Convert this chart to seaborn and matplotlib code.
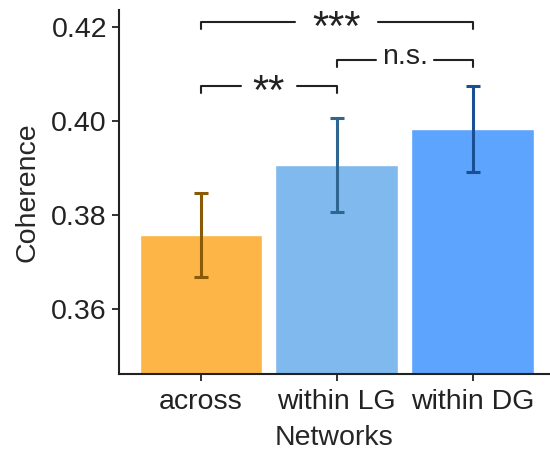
import numpy as np
import seaborn as sns
import matplotlib.pyplot as plt

networks = ["across", "within LG", "within DG"]
coherence_mean = [0.3758, 0.3906, 0.3983]
coherence_sem = [0.0090, 0.0100, 0.0092]
bar_colors = ["#FDB547", "#7FB9EE", "#5CA4FD"]
err_colors = ["#8B5A06", "#2F6591", "#1B4F93"]

# comparações (par de barras, altura do colchete, rótulo)
comparisons = [(0, 2, 0.4211, "***"), (1, 2, 0.4130, "n.s."), (0, 1, 0.4074, "**")]

sns.set_style("ticks")
plt.rcParams["font.family"] = ["Liberation Sans", "DejaVu Sans"]
plt.rcParams["font.size"] = 20.5

fig = plt.figure(figsize=(5.5, 4.54), dpi=100)
ax = fig.add_axes([0.216, 0.176, 0.784, 0.802])

sns.barplot(x=networks, y=coherence_mean, hue=networks, palette=bar_colors,
            width=0.9, legend=False, saturation=1, ax=ax)

for i, (m, s) in enumerate(zip(coherence_mean, coherence_sem)):
    ax.errorbar(i, m, yerr=s, color=err_colors[i], elinewidth=2.2,
                capsize=5, capthick=2.2, fmt="none")

ax.set_ylim(0.3462, 0.4236)
ax.set_xlim(-0.603, 2.57)

# estilo do rótulo: tamanho, deslocamento vertical (pt), folga horizontal (px)
label_style = {"***": (30, -13, 17), "**": (30, -13, 12), "n.s.": (20.5, -3, 6)}
tick_h = 0.0015
fig.canvas.draw()
renderer = fig.canvas.get_renderer()
inv = ax.transData.inverted()
for a, b, y, label in comparisons:
    fs, dy, gap = label_style[label]
    t = ax.annotate(label, xy=((a + b) / 2, y), xytext=(0, dy), textcoords="offset points",
                    ha="center", va="baseline", fontsize=fs, color="#222222")
    ext = t.get_window_extent(renderer)
    x_left = inv.transform((ext.x0 - gap, 0))[0]
    x_right = inv.transform((ext.x1 + gap, 0))[0]
    ax.plot([a, a, x_left], [y - tick_h, y, y], color="#222222", lw=1.5, clip_on=False)
    ax.plot([x_right, b, b], [y, y, y - tick_h], color="#222222", lw=1.5, clip_on=False)

ax.set_yticks([0.36, 0.38, 0.40, 0.42])
ax.set_yticklabels(["0.36", "0.38", "0.40", "0.42"])
ax.set_xlabel("Networks", fontsize=20.5, labelpad=7)
ax.set_ylabel("Coherence", fontsize=20.5, labelpad=8)
ax.tick_params(labelsize=20.5, width=1.3, length=5, color="#222222", labelcolor="#222222")
ax.tick_params(axis="x", pad=6)
for sp in ["top", "right"]:
    ax.spines[sp].set_visible(False)
for sp in ["left", "bottom"]:
    ax.spines[sp].set_linewidth(1.5)
    ax.spines[sp].set_color("#222222")

fig.savefig("out.png", dpi=100)
